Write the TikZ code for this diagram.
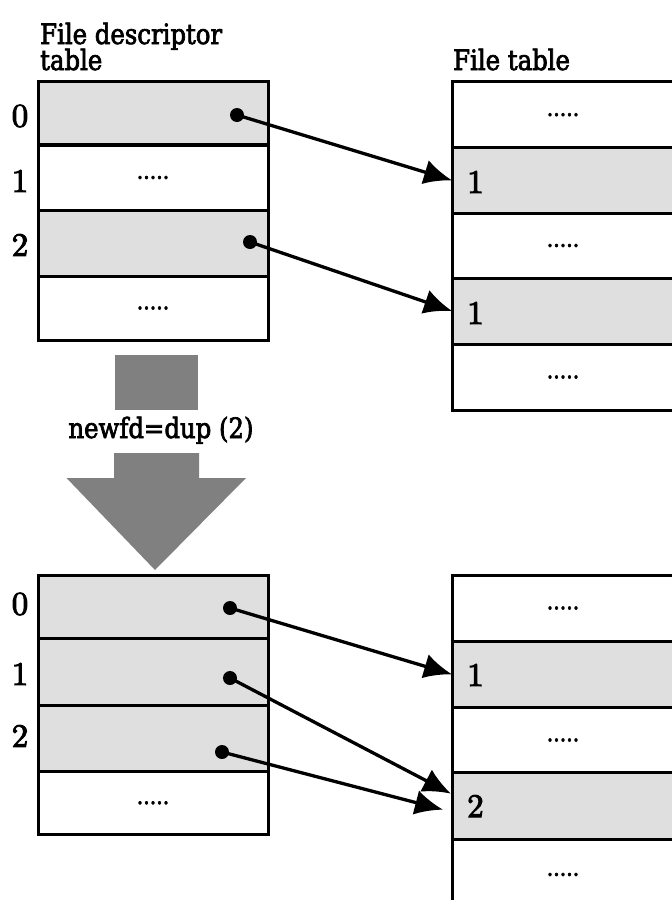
\documentclass[tikz,border=0pt]{standalone}
\usepackage{fontspec}
\usetikzlibrary{arrows.meta,calc}
\newfontfamily\wordfont{DejaVu Serif}[FakeStretch=0.87,FakeBold=2.5]
\newfontfamily\digitfont{lmroman10-regular.otf}[FakeBold=3]
\definecolor{rowgray}{RGB}{223,223,223}
\definecolor{biggray}{RGB}{128,128,128}
\tikzset{
  cell/.style={draw=black, line width=3pt, inner sep=0pt, outer sep=0pt,
    minimum width=230pt, font=\fontsize{23.5}{25}\selectfont\wordfont},
  fcell/.style={cell, minimum width=222pt},
  used/.style={fill=rowgray},
  digit/.style={inner sep=0pt, font=\fontsize{33}{36}\selectfont\digitfont},
  heading/.style={inner sep=0pt, anchor=base west, font=\fontsize{28}{32}\selectfont\wordfont},
  fdptr/.style={line width=3.3pt, -{Latex[length=28pt,width=25pt]}},
  fddot/.style={circle, fill=black, inner sep=0pt, minimum size=14pt},
  bigarrow/.style={fill=biggray}
}
\begin{document}
\begin{tikzpicture}[x=1pt,y=-1pt]
\useasboundingbox (0,0) rectangle (672,900);
\clip (0,0) rectangle (672,900);

% headings
\node[heading] (h1) at (40,44) {File descriptor};
\node[heading] (h2) at (40,70) {table};
\node[heading] (h3) at (453,70) {File table};

% descriptor table before dup
\node[cell,used,minimum height=63.3pt] (a0) at (153,113.3) {};
\node[cell,minimum height=65pt] (a1) at (153,177.5) {.....};
\node[cell,used,minimum height=66pt] (a2) at (153,243) {};
\node[cell,minimum height=64pt] (a3) at (153,308) {.....};
\node[digit] (n0) at (20,116) {0};
\node[digit] (n1) at (20,181) {1};
\node[digit] (n2) at (20,245) {2};

% file table before dup
\node[fcell,minimum height=66pt] (b0) at (563,114.7) {.....};
\node[fcell,used,minimum height=65.3pt] (b1) at (563,180.35) {};
\node[fcell,minimum height=65pt] (b2) at (563,245.5) {.....};
\node[fcell,used,minimum height=66pt] (b3) at (563,311) {};
\node[fcell,minimum height=66pt] (b4) at (563,377) {.....};
\node[digit,anchor=base west] (c1) at (467,193) {1};
\node[digit,anchor=base west] (c3) at (467,324) {1};

% pointers before dup
\node[fddot] (p0) at (237,115) {};
\node[fddot] (p2) at (250,242) {};
\draw[fdptr] (p0.center) -- (b1.west);
\draw[fdptr] (p2.center) -- (b3.west);

% dup arrow
\fill[bigarrow] (115,355) rectangle (198,410);
\fill[bigarrow] (114,453) -- (199,453) -- (199,478) -- (246,478)
  -- (155,570) -- (66.5,478) -- (114,478) -- cycle;
\node[heading,anchor=base] (dup) at (161,438) {newfd=dup (2)};

% descriptor table after dup
\node[cell,used,minimum height=63.3pt] (e0) at (153,606.65) {};
\node[cell,used,minimum height=67.4pt] (e1) at (153,672) {};
\node[cell,used,minimum height=66pt] (e2) at (153,738.7) {};
\node[cell,minimum height=62.3pt] (e3) at (153,802.85) {.....};
\node[digit] (m0) at (20,604) {0};
\node[digit] (m1) at (20,674) {1};
\node[digit] (m2) at (20,736) {2};

% file table after dup
\node[fcell,minimum height=66pt] (d0) at (563,608) {.....};
\node[fcell,used,minimum height=66.7pt] (d1) at (563,674.35) {};
\node[fcell,minimum height=64.6pt] (d2) at (563,740) {.....};
\node[fcell,used,minimum height=66.7pt] (d3) at (563,805.65) {};
\node[fcell,minimum height=71pt] (d4) at (563,874.5) {.....};
\node[digit,anchor=base west] (f1) at (467,686) {1};
\node[digit,anchor=base west] (f3) at (467,817) {2};

% pointers after dup
\node[fddot] (q0) at (230,608) {};
\node[fddot] (q1) at (230,678) {};
\node[fddot] (q2) at (222,752) {};
\coordinate (t1) at ($(d3.west)+(-1,-12)$);
\coordinate (t2) at ($(d3.west)+(-9,4)$);
\draw[fdptr] (q0.center) -- (d1.west);
\draw[fdptr] (q1.center) -- (t1);
\draw[fdptr] (q2.center) -- (t2);
\end{tikzpicture}
\end{document}
